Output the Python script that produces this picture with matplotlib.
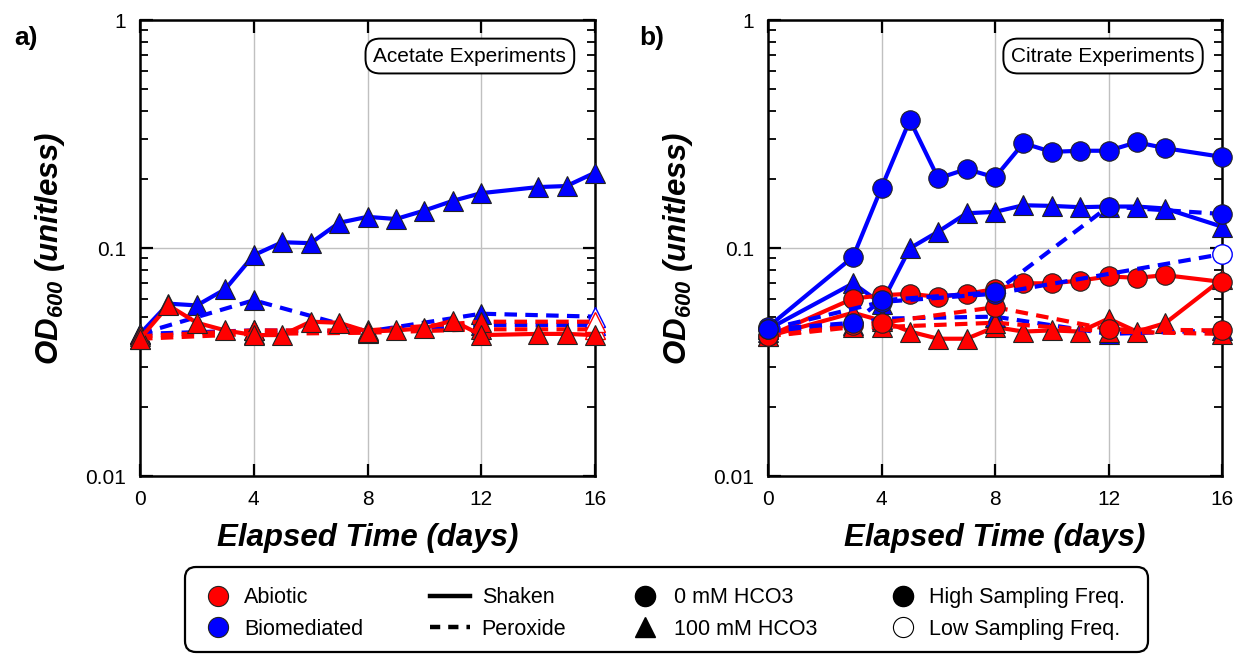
import matplotlib
matplotlib.use("Agg")
import matplotlib.pyplot as plt
from matplotlib.lines import Line2D
from matplotlib.patches import FancyBboxPatch
from matplotlib.transforms import IdentityTransform
from matplotlib.ticker import LogLocator, NullFormatter, FixedLocator, FixedFormatter

plt.rcParams['font.family'] = ['Liberation Sans', 'DejaVu Sans']
plt.rcParams['mathtext.fontset'] = 'custom'
plt.rcParams['mathtext.rm'] = 'Liberation Sans:italic:bold'
plt.rcParams['mathtext.it'] = 'Liberation Sans:italic:bold'
plt.rcParams['mathtext.bf'] = 'Liberation Sans:italic:bold'
plt.rcParams['mathtext.default'] = 'rm'

RED = '#ff0000'
BLUE = '#0000ff'

# ---------------- Panel a: Acetate ----------------
a_days_full = [0, 1, 2, 3, 4, 5, 6, 7, 8, 9, 10, 11, 12, 14, 15, 16]
a_bio_shaken = [0.042, 0.057, 0.056, 0.066, 0.093, 0.106, 0.105, 0.129, 0.137, 0.134, 0.146, 0.161, 0.174, 0.185, 0.187, 0.214]
a_abi_shaken = [0.040, 0.056, 0.047, 0.0435, 0.0415, 0.0415, 0.0475, 0.047, 0.043, 0.0435, 0.0445, 0.048, 0.0415, 0.042, 0.042, 0.0415]
a_days_sparse = [0, 4, 8, 12, 16]
a_bio_perox_1 = [0.042, 0.059, 0.043, 0.0515, 0.050]
a_bio_perox_2 = [0.042, 0.0435, 0.043, 0.046, 0.046]
a_abi_perox_1 = [0.041, 0.0435, 0.0435, 0.0475, 0.0475]
a_abi_perox_2 = [0.040, 0.042, 0.0425, 0.044, 0.044]

# ---------------- Panel b: Citrate ----------------
b_days_full = [0, 3, 4, 5, 6, 7, 8, 9, 10, 11, 12, 13, 14, 16]
b_bio_shaken_0 = [0.045, 0.0915, 0.184, 0.364, 0.202, 0.222, 0.204, 0.288, 0.264, 0.267, 0.267, 0.291, 0.274, 0.251]
b_bio_shaken_100 = [0.044, 0.070, 0.057, 0.0997, 0.118, 0.142, 0.144, 0.154, 0.153, 0.151, 0.152, 0.152, 0.149, 0.124]
b_abi_shaken_0 = [0.041, 0.060, 0.062, 0.063, 0.061, 0.063, 0.066, 0.070, 0.070, 0.072, 0.075, 0.074, 0.076, 0.071]
b_abi_shaken_100 = [0.041, 0.052, 0.048, 0.043, 0.040, 0.040, 0.045, 0.043, 0.0435, 0.043, 0.049, 0.043, 0.0468, 0.073]
b_days_sparse = [0, 3, 4, 8, 12, 16]
b_bio_perox_0 = [0.044, 0.047, 0.059, 0.064, 0.152, 0.141]
b_bio_perox_100 = [0.043, 0.046, 0.049, 0.050, 0.042, 0.0435]
b_abi_perox_0 = [0.041, 0.046, 0.047, 0.055, 0.044, 0.0435]
b_abi_perox_100 = [0.041, 0.045, 0.045, 0.047, 0.043, 0.042]
b_days_low = [0, 4, 8, 16]
b_bio_perox_low = [0.044, 0.058, 0.063, 0.094]

x_ticks = [0, 4, 8, 12, 16]
y_ticks = [0.01, 0.1, 1]
y_tick_labels = ['0.01', '0.1', '1']

W, H = 1244, 655
fig = plt.figure(figsize=(W / 100, H / 100), dpi=100)

def fx(px):
    return px / W

def fy(py):
    return 1 - py / H

axa = fig.add_axes([fx(140), fy(476), fx(595) - fx(140), fy(20) - fy(476)])
axb = fig.add_axes([fx(768), fy(476), fx(1222) - fx(768), fy(20) - fy(476)])

LW = 3.0
MS = 14
DASH = (0, (3, 2))
EC = '#222222'

def series(ax, x, y, color, ls, marker, open_last=False, z=3):
    ax.plot(x, y, color=color, lw=LW, linestyle=ls, zorder=z, clip_on=False,
            dash_capstyle='butt', solid_capstyle='round', solid_joinstyle='round')
    if open_last:
        ax.plot(x[:-1], y[:-1], linestyle='none', marker=marker, ms=MS,
                mfc=color, mec=EC, mew=0.8, zorder=z + 0.01, clip_on=False)
        ax.plot(x[-1:], y[-1:], linestyle='none', marker=marker, ms=MS,
                mfc='white', mec=color, mew=1.0, zorder=z + 0.01, clip_on=False)
    else:
        ax.plot(x, y, linestyle='none', marker=marker, ms=MS,
                mfc=color, mec=EC, mew=0.8, zorder=z + 0.01, clip_on=False)

# Panel a
series(axa, a_days_full, a_bio_shaken, BLUE, '-', '^', z=3)
series(axa, a_days_sparse, a_bio_perox_2, BLUE, DASH, '^', open_last=True, z=3.1)
series(axa, a_days_sparse, a_bio_perox_1, BLUE, DASH, '^', open_last=True, z=3.2)
series(axa, a_days_sparse, a_abi_perox_2, RED, DASH, '^', open_last=True, z=3.3)
series(axa, a_days_sparse, a_abi_perox_1, RED, DASH, '^', open_last=True, z=3.4)
series(axa, a_days_full, a_abi_shaken, RED, '-', '^', z=3.5)

# Panel b
series(axb, b_days_full, b_bio_shaken_100, BLUE, '-', '^', z=3)
series(axb, b_days_full, b_bio_shaken_0, BLUE, '-', 'o', z=3.1)
series(axb, b_days_full, b_abi_shaken_100, RED, '-', '^', z=3.2)
series(axb, b_days_full, b_abi_shaken_0, RED, '-', 'o', z=3.3)
series(axb, b_days_sparse, b_bio_perox_100, BLUE, DASH, '^', z=3.4)
series(axb, b_days_sparse, b_abi_perox_100, RED, DASH, '^', z=3.5)
series(axb, b_days_sparse, b_abi_perox_0, RED, DASH, 'o', z=3.6)
series(axb, b_days_low, b_bio_perox_low, BLUE, DASH, 'o', open_last=True, z=3.7)
series(axb, b_days_sparse, b_bio_perox_0, BLUE, DASH, 'o', z=3.8)

for ax, title, tx in [(axa, 'Acetate Experiments', 0.725), (axb, 'Citrate Experiments', 0.738)]:
    ax.set_yscale('log')
    ax.set_xlim(0, 16)
    ax.set_ylim(0.01, 1)
    ax.xaxis.set_major_locator(FixedLocator(x_ticks))
    ax.yaxis.set_major_locator(FixedLocator(y_ticks))
    ax.yaxis.set_major_formatter(FixedFormatter(y_tick_labels))
    ax.yaxis.set_minor_locator(LogLocator(base=10, subs=range(2, 10)))
    ax.yaxis.set_minor_formatter(NullFormatter())
    ax.tick_params(which='major', direction='in', length=9, width=1.6,
                   top=True, right=True, labelsize=15)
    ax.tick_params(axis='x', which='major', pad=10)
    ax.tick_params(axis='y', which='major', pad=10)
    ax.tick_params(which='minor', direction='in', length=6, width=1.3,
                   top=False, right=True)
    ax.grid(True, which='major', color='#c0c0c0', lw=1.0, zorder=0)
    for s in ax.spines.values():
        s.set_linewidth(1.8)
    ax.set_xlabel('Elapsed Time (days)', fontsize=22.5, fontweight='bold',
                  style='italic', labelpad=10)
    ax.set_ylabel('OD$_{600}$ (unitless)', fontsize=22.5, fontweight='bold',
                  style='italic', labelpad=13)
    ax.text(tx, 0.921, title, transform=ax.transAxes, ha='center', va='center',
            fontsize=15, zorder=10,
            bbox=dict(boxstyle='round,pad=0.38,rounding_size=0.7', fc='white',
                      ec='black', lw=1.4))

fig.text(fx(14), fy(38), 'a)', fontsize=19, fontweight='bold', ha='left', va='center')
fig.text(fx(639), fy(38), 'b)', fontsize=19, fontweight='bold', ha='left', va='center')

# ---------------- Legend (four columns in one rounded frame) ----------------
LFS = 15.5
LMS = 14.5
col_handles = [
    [Line2D([], [], linestyle='none', marker='o', ms=LMS, mfc=RED, mec=EC, mew=0.8),
     Line2D([], [], linestyle='none', marker='o', ms=LMS, mfc=BLUE, mec=EC, mew=0.8)],
    [Line2D([], [], color='black', lw=3.2),
     Line2D([], [], color='black', lw=3.2, linestyle=(0, (2.3, 1.8)))],
    [Line2D([], [], linestyle='none', marker='o', ms=LMS, mfc='black', mec='black'),
     Line2D([], [], linestyle='none', marker='^', ms=LMS, mfc='black', mec='black')],
    [Line2D([], [], linestyle='none', marker='o', ms=LMS, mfc='black', mec='black'),
     Line2D([], [], linestyle='none', marker='o', ms=LMS, mfc='white', mec='black', mew=0.8)],
]
col_labels = [['Abiotic', 'Biomediated'], ['Shaken', 'Peroxide'],
              ['0 mM HCO3', '100 mM HCO3'], ['High Sampling Freq.', 'Low Sampling Freq.']]
col_x = [201, 430, 628, 886]
col_hl = [1.55, 1.85, 1.55, 1.55]
col_pad = [0.45, 0.55, 0.6, 0.45]
for h, l, x0, hl, pd in zip(col_handles, col_labels, col_x, col_hl, col_pad):
    fig.legend(h, l, loc='center left', bbox_to_anchor=(fx(x0), fy(613.5)),
               frameon=False, fontsize=LFS, borderpad=0, borderaxespad=0,
               handlelength=hl, handletextpad=pd, labelspacing=0.5)

frame = FancyBboxPatch((185, H - 652), 963, 85,
                       boxstyle='round,pad=0,rounding_size=11',
                       transform=IdentityTransform(), fc='none', ec='black', lw=1.6)
fig.patches.append(frame)

fig.savefig('out.png', dpi=100)
